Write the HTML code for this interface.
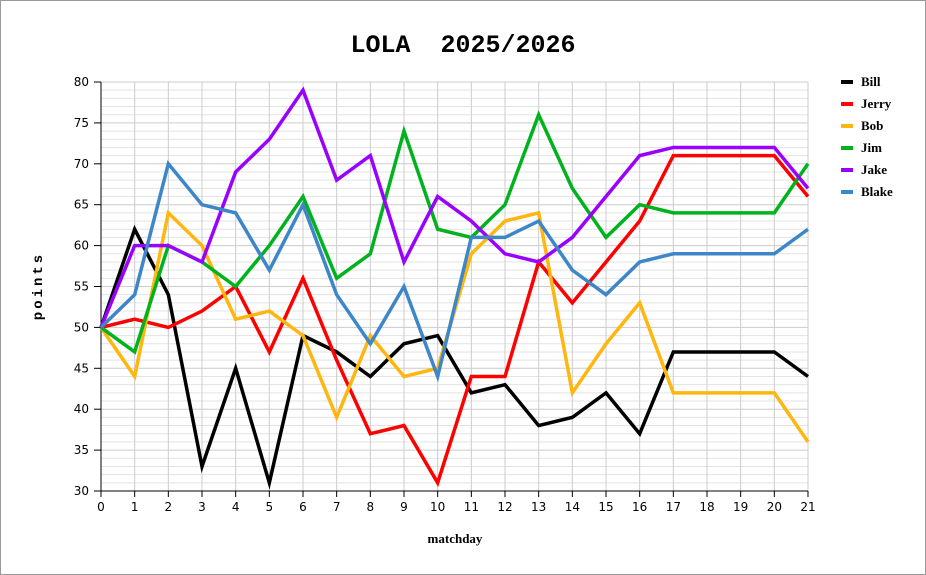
<!DOCTYPE html>
<html><head><meta charset="utf-8"><style>body{margin:0;background:#fff}svg{display:block}</style></head><body>
<svg width="926" height="575" xmlns="http://www.w3.org/2000/svg" font-family="DejaVu Sans, sans-serif">
<rect x="0.5" y="0.5" width="925" height="574" fill="#fff" stroke="#999"/>
<text x="463" y="52" text-anchor="middle" font-family="Liberation Mono, monospace" font-weight="bold" font-size="25" xml:space="preserve">LOLA  2025/2026</text>
<g id="grid"></g>
<g id="axes"></g>
<g id="series" fill="none" stroke-width="3.5" stroke-linejoin="miter"></g>
<text transform="translate(42,286) rotate(-90)" text-anchor="middle" font-family="Liberation Mono, monospace" font-weight="bold" font-size="14" letter-spacing="3">points</text>
<text x="455" y="543" text-anchor="middle" font-family="Liberation Serif, serif" font-weight="bold" font-size="13">matchday</text>
<g id="legend" font-family="Liberation Serif, serif" font-weight="bold" font-size="13"></g>
</svg>
<script>
const NS="http://www.w3.org/2000/svg";
const X0=101,X1=808,Y0=491,Y1=82;
const xs=i=>X0+(X1-X0)*i/21, ys=v=>Y0-(Y0-Y1)*(v-30)/50;
function el(p,t,a,txt){const e=document.createElementNS(NS,t);for(const k in a)e.setAttribute(k,a[k]);if(txt!==undefined)e.textContent=txt;p.appendChild(e);return e;}
const g=document.getElementById('grid'),ax=document.getElementById('axes');
for(let v=31;v<80;v++){if(v%5)el(g,'line',{x1:X0,x2:X1,y1:ys(v),y2:ys(v),stroke:'#e3e3e3','stroke-width':1});}
for(let i=1;i<=21;i++)el(g,'line',{x1:xs(i),x2:xs(i),y1:Y1,y2:Y0,stroke:'#cccccc','stroke-width':1});
for(let v=35;v<=80;v+=5)el(g,'line',{x1:X0,x2:X1,y1:ys(v),y2:ys(v),stroke:'#cccccc','stroke-width':1});
el(ax,'line',{x1:X0,x2:X0,y1:Y1,y2:Y0,stroke:'#000'});
el(ax,'line',{x1:X0,x2:X1,y1:Y0,y2:Y0,stroke:'#000'});
for(let v=30;v<=80;v+=5){el(ax,'line',{x1:X0-7,x2:X0,y1:ys(v),y2:ys(v),stroke:'#000'});el(ax,'text',{x:X0-12,y:ys(v)+4,'text-anchor':'end','font-size':12},v);}
for(let i=0;i<=21;i++){el(ax,'line',{x1:xs(i),x2:xs(i),y1:Y0,y2:Y0+6,stroke:'#000'});el(ax,'text',{x:xs(i),y:Y0+20,'text-anchor':'middle','font-size':12},i);}
const S=[
["Bill","#000000",[50,62,54,33,45,31,49,47,44,48,49,42,43,38,39,42,37,47,47,47,47,44]],
["Jerry","#ff0000",[50,51,50,52,55,47,56,46,37,38,31,44,44,58,53,58,63,71,71,71,71,66]],
["Bob","#ffb60f",[50,44,64,60,51,52,49,39,49,44,45,59,63,64,42,48,53,42,42,42,42,36]],
["Jim","#00b31e",[50,47,60,58,55,60,66,56,59,74,62,61,65,76,67,61,65,64,64,64,64,70]],
["Jake","#9a00ff",[50,60,60,58,69,73,79,68,71,58,66,63,59,58,61,66,71,72,72,72,72,67]],
["Blake","#3d86c8",[50,54,70,65,64,57,65,54,48,55,44,61,61,63,57,54,58,59,59,59,59,62]]];
const sg=document.getElementById('series'),lg=document.getElementById('legend');
S.forEach((s,k)=>{el(sg,'polyline',{points:s[2].map((v,i)=>xs(i)+','+ys(v)).join(' '),stroke:s[1]});
const y=82+k*22;el(lg,'line',{x1:841,x2:853,y1:y,y2:y,stroke:s[1],'stroke-width':4});el(lg,'text',{x:861,y:y+4},s[0]);});
</script>
</body></html>
